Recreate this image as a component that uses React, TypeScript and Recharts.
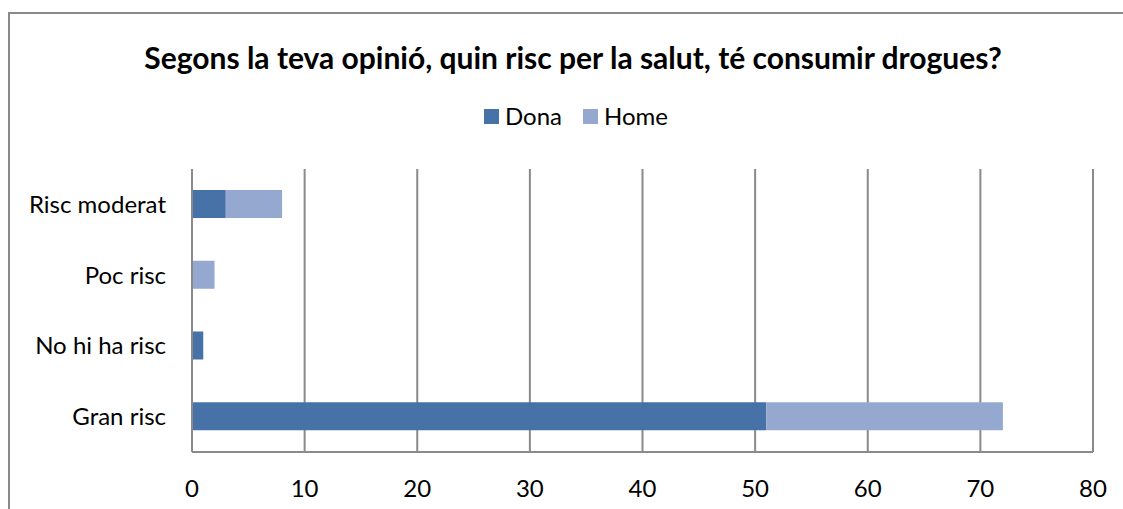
import React from 'react';
import {
  BarChart,
  Bar,
  XAxis,
  YAxis,
  CartesianGrid,
  Legend,
} from 'recharts';

const categories = ['Risc moderat', 'Poc risc', 'No hi ha risc', 'Gran risc'];
const donaValues = [3, 0, 1, 51];
const homeValues = [5, 2, 0, 21];
const xTicks = [0, 10, 20, 30, 40, 50, 60, 70, 80];

const FONT = 'Lato, "Open Sans", sans-serif';
const GRAY = '#8a8a8a';

const data = categories.map((cat, i) => ({
  cat,
  Dona: donaValues[i],
  Home: homeValues[i],
}));

function LegendContent(props: any) {
  const items = props.payload ?? [];
  return (
    <div style={{ display: 'flex', justifyContent: 'center', gap: 21, fontFamily: FONT, fontSize: 24, lineHeight: '28px', color: '#000' }}>
      {items.map((it: any) => (
        <div key={it.value} style={{ display: 'flex', alignItems: 'center' }}>
          <span style={{ display: 'inline-block', width: 15, height: 15, background: it.color, marginRight: 6 }} />
          <span>{it.value}</span>
        </div>
      ))}
    </div>
  );
}

export default function App() {
  return (
    <div style={{ position: 'absolute', left: 8, top: 12, width: 1115, height: 497, borderLeft: `2px solid ${GRAY}`, borderTop: `2px solid ${GRAY}`, background: '#fff' }}>
      <div style={{ position: 'absolute', left: 0, width: 1126, top: 25, textAlign: 'center', fontFamily: FONT, fontWeight: 'bold', fontSize: 30, lineHeight: '36px', color: '#000' }}>
        Segons la teva opinió, quin risc per la salut, té consumir drogues?
      </div>
      <div style={{ position: 'absolute', left: -2, top: -2 }}>
        <BarChart
          width={1115}
          height={497}
          layout="vertical"
          data={data}
          barSize={28}
          margin={{ top: 129, right: 30, left: 8, bottom: 27 }}
        >
          <CartesianGrid horizontal={false} vertical stroke={GRAY} strokeWidth={2} />
          <XAxis
            type="number"
            domain={[0, 80]}
            ticks={xTicks}
            axisLine={{ stroke: GRAY, strokeWidth: 2 }}
            tickLine={false}
            tickMargin={22}
            tick={{ fill: '#000', fontSize: 24, fontFamily: FONT }}
          />
          <YAxis
            type="category"
            dataKey="cat"
            width={176}
            axisLine={{ stroke: GRAY, strokeWidth: 2 }}
            tickLine={false}
            tickMargin={20}
            tick={{ fill: '#000', fontSize: 24, fontFamily: FONT }}
          />
          <Legend verticalAlign="top" content={<LegendContent />} wrapperStyle={{ top: 90, left: 0, width: 1136 }} />
          <Bar dataKey="Dona" stackId="a" fill="#4672A8" isAnimationActive={false} />
          <Bar dataKey="Home" stackId="a" fill="#95A9D0" isAnimationActive={false} />
        </BarChart>
      </div>
    </div>
  );
}
